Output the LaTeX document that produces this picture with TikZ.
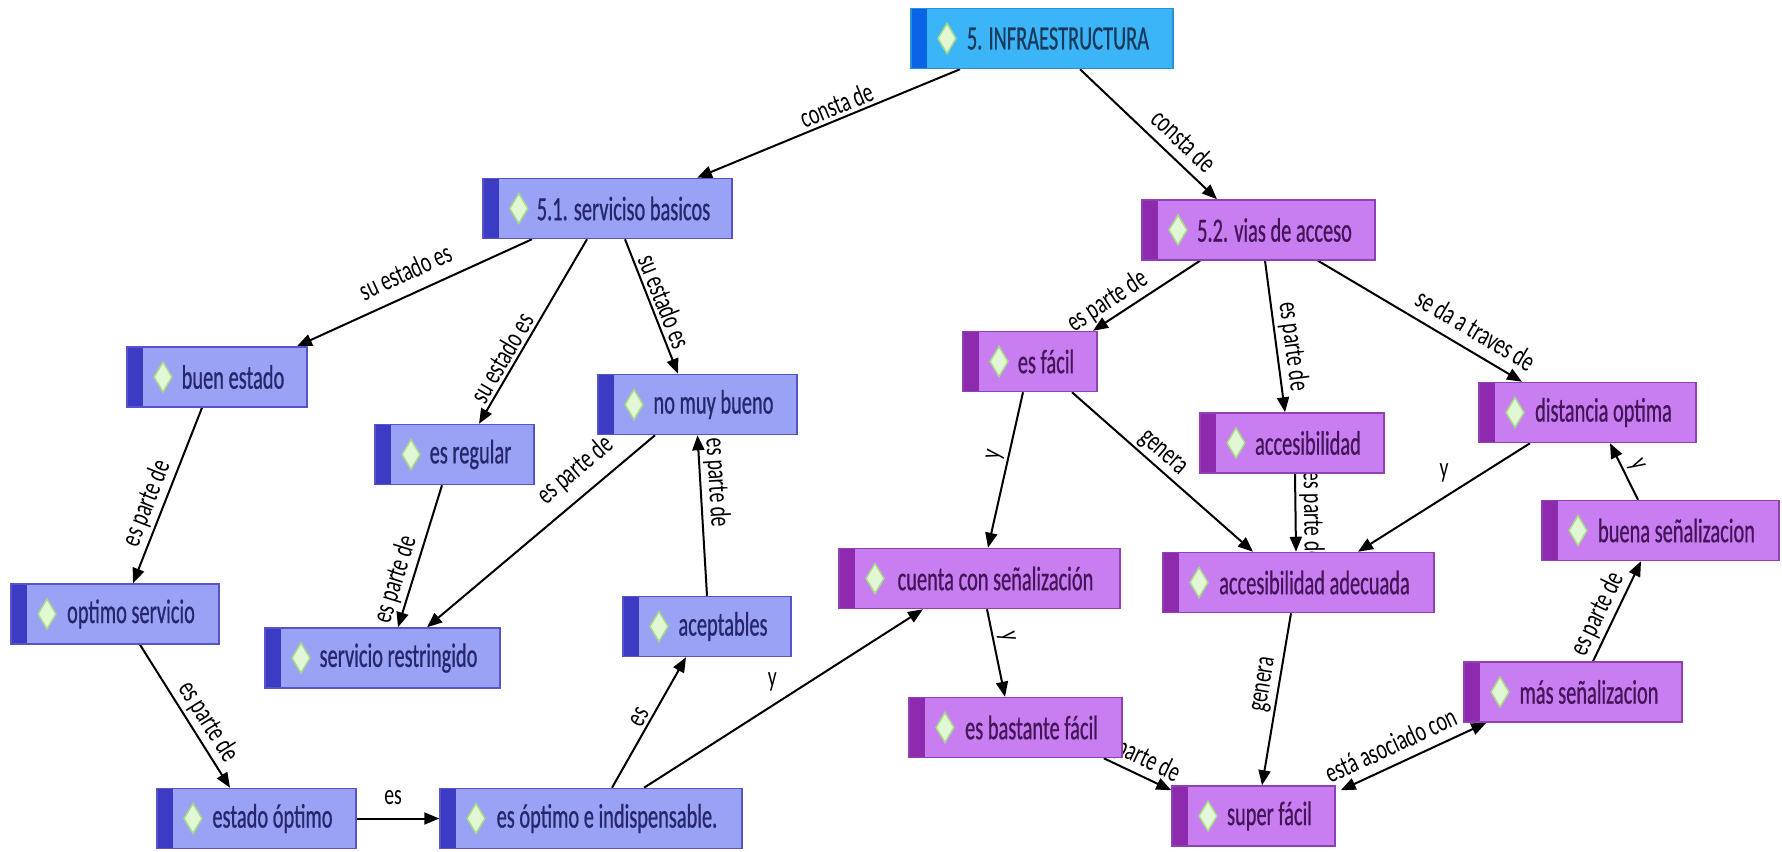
\documentclass[tikz,border=0pt]{standalone}
\usepackage{fontspec}
\usetikzlibrary{arrows.meta,backgrounds}
\newfontfamily\boxfont[FakeStretch=0.6,FakeBold=0.6]{Carlito}
\newfontfamily\linkfont[FakeStretch=0.68]{Carlito}
\definecolor{topfill}{HTML}{3CB4F8}
\definecolor{topstrip}{HTML}{0A64E6}
\definecolor{topline}{HTML}{2A90D8}
\definecolor{toptext}{HTML}{1A3A5C}
\definecolor{bluefill}{HTML}{9AA2F6}
\definecolor{bluestrip}{HTML}{3B3BC4}
\definecolor{blueline}{HTML}{5555C8}
\definecolor{bluetext}{HTML}{26266A}
\definecolor{purplefill}{HTML}{C87EF0}
\definecolor{purplestrip}{HTML}{8E2AAE}
\definecolor{purpleline}{HTML}{9040B0}
\definecolor{purpletext}{HTML}{45155A}
\definecolor{gemfill}{HTML}{E2F7D4}
\definecolor{gemline}{HTML}{A6DA8A}
\begin{document}
\begin{tikzpicture}[x=1pt,y=-1pt,->,>={Triangle[length=15pt,width=12pt]},
	box/.style={rectangle,draw,line width=1.5pt,minimum height=60pt,inner xsep=22pt,
		font={\boxfont\fontsize{34pt}{37pt}\selectfont},execute at begin node={\hspace*{32pt}},
		path picture={\fill[#1] (path picture bounding box.north west) rectangle ([xshift=16pt]path picture bounding box.south west);
			\draw[-,line width=1.5pt,draw=gemline,fill=gemfill] ([xshift=36pt,yshift=15pt]path picture bounding box.west)
			-- ++(9pt,-15pt) -- ++(-9pt,-15pt) -- ++(-9pt,15pt) -- cycle;}},
	top node/.style={box=topstrip,fill=topfill,draw=topline,text=toptext},
	blue node/.style={box=bluestrip,fill=bluefill,draw=blueline,text=bluetext},
	purple node/.style={box=purplestrip,fill=purplefill,draw=purpleline,text=purpletext},
	link/.style={font={\linkfont\fontsize{29pt}{32pt}\selectfont},text=black,inner sep=3pt}]

	\useasboundingbox (0,0) rectangle (1782,851);

	\node[top node,minimum width=262pt] (infra) at (1042,38.5) {5. INFRAESTRUCTURA};
	\node[blue node,minimum width=245pt] (s51) at (607.5,208.5) {5.1. serviciso basicos};
	\node[purple node,minimum width=233pt] (s52) at (1258.5,230) {5.2. vias de acceso};

	\node[blue node,minimum width=180pt] (buen) at (217,377) {buen estado};
	\node[blue node,minimum width=159pt] (regular) at (454.5,454.5) {es regular};
	\node[blue node,minimum width=199pt] (nomuy) at (697.5,404.5) {no muy bueno};
	\node[blue node,minimum width=208pt] (optserv) at (115,614) {optimo servicio};
	\node[blue node,minimum width=235pt] (restr) at (382.5,658) {servicio restringido};
	\node[blue node,minimum width=199pt] (estopt) at (256.5,818.5) {estado óptimo};
	\node[blue node,minimum width=168pt] (acept) at (707,626.5) {aceptables};
	\node[blue node,minimum width=302pt] (esopt) at (591,818.5) {es óptimo e indispensable.};

	\node[purple node,minimum width=134pt] (facil) at (1030,361.5) {es fácil};
	\node[purple node,minimum width=184pt] (acces) at (1292,443) {accesibilidad};
	\node[purple node,minimum width=217pt] (dist) at (1587.5,412.5) {distancia optima};
	\node[purple node,minimum width=281pt] (cuenta) at (979.5,578.5) {cuenta con señalización};
	\node[purple node,minimum width=271pt] (adec) at (1298.5,582.5) {accesibilidad adecuada};
	\node[purple node,minimum width=237pt] (buena) at (1660.5,530.5) {buena señalizacion};
	\node[purple node,minimum width=213pt] (bast) at (1015.5,727.5) {es bastante fácil};
	\node[purple node,minimum width=218pt] (mas) at (1573,692) {más señalizacion};
	\node[purple node,minimum width=163pt] (super) at (1253.5,816) {super fácil};

	\begin{scope}[on background layer]
	\fill[white] (0,0) rectangle (1782,851);
	\path[line width=2pt,every node/.style={link}]
	([xshift=-82pt]infra.south) edge node[sloped,above,pos=.45] {consta de} ([xshift=89.5pt]s51.north)
	([xshift=38pt]infra.south) edge node[sloped,above=6pt,pos=.66] {consta de} ([xshift=-41.5pt]s52.north)
	([xshift=-75.5pt]s51.south) edge node[sloped,above=9pt,pos=.5] {su estado es} ([xshift=80pt]buen.north)
	([xshift=-20.5pt]s51.south) edge node[sloped,above,pos=.68] {su estado es} ([xshift=24.5pt]regular.north)
	([xshift=17.5pt]s51.south) edge node[sloped,above,pos=.5] {su estado es} ([xshift=-19.5pt]nomuy.north)
	([xshift=-15pt]buen.south) edge node[sloped,above,pos=.58] {es parte de} ([xshift=18pt]optserv.north)
	([xshift=-12.5pt]regular.south) edge node[sloped,above,pos=.7] {es parte de} ([xshift=15.5pt]restr.north)
	([xshift=-42.5pt]nomuy.south) edge node[sloped,above=8pt,pos=.28] {es parte de} ([xshift=44.5pt]restr.north)
	(acept.north) edge node[sloped,above,pos=.7] {es parte de} (nomuy.south)
	([xshift=25pt]optserv.south) edge node[sloped,above,pos=.6] {es parte de} ([xshift=-26.5pt]estopt.north)
	(estopt.east) edge node[above=10pt,pos=.44] {es} (esopt.west)
	([xshift=21pt]esopt.north) edge node[sloped,above,pos=.5] {es} ([xshift=-21pt]acept.south)
	([xshift=53pt]esopt.north) edge node[above,pos=.46,yshift=10pt] {y} ([xshift=-56.5pt]cuenta.south)
	([xshift=-58.5pt]s52.south) edge node[sloped,above,pos=.78] {es parte de} ([xshift=63pt]facil.north)
	([xshift=6.5pt]s52.south) edge node[sloped,above,pos=.58] {es parte de} ([xshift=-7pt]acces.north)
	([xshift=59.5pt]s52.south) edge node[sloped,above=7pt,pos=.72] {se da a traves de} ([xshift=-65.5pt]dist.north)
	([xshift=-7pt]facil.south) edge node[sloped,above,pos=.42] {y} ([xshift=8.5pt]cuenta.north)
	([xshift=42pt]facil.south) edge node[sloped,above,pos=.45] {genera} ([xshift=-45.5pt]adec.north)
	([xshift=3pt]acces.south) edge node[sloped,above,pos=.55] {es parte de} ([xshift=-2.5pt]adec.north)
	([xshift=-57.5pt]dist.south) edge node[above left,pos=.45,yshift=6pt] {y} ([xshift=59.5pt]adec.north)
	([xshift=-22.5pt]buena.north) edge node[sloped,above,pos=.5] {y} ([xshift=22.5pt]dist.south)
	([xshift=20pt]mas.north) edge node[sloped,above,pos=.4] {es parte de} ([xshift=-19.5pt]buena.south)
	([xshift=23pt]mas.south west) edge[<->] node[sloped,above=6pt,pos=.6] {está asociado con} ([xshift=5pt,yshift=-5pt]super.north east)
	([xshift=-7.5pt]adec.south) edge node[sloped,above,pos=.43] {genera} ([xshift=8.5pt]super.north)
	([xshift=7.5pt]cuenta.south) edge node[sloped,above,pos=.35] {y} ([xshift=-10.5pt]bast.north)
	([xshift=-19pt]bast.south east) edge node[sloped,above,pos=.4] {es parte de} ([yshift=-5pt]super.north west);
	\end{scope}
\end{tikzpicture}
\end{document}
